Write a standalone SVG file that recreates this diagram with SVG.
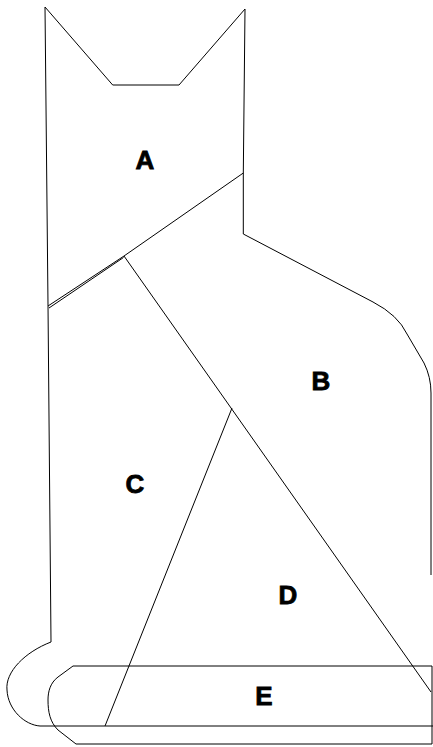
<svg xmlns="http://www.w3.org/2000/svg" width="433" height="747" viewBox="0 0 433 747">
<style>
.ln{fill:none;stroke:#000;stroke-width:1;stroke-linejoin:round}
.lb{font-family:"Liberation Sans",Arial,sans-serif;font-weight:bold;font-size:26px;fill:#000;stroke:#000;stroke-width:0.8;text-anchor:middle}
</style>
<rect width="433" height="747" fill="#fff"/>
<g id="outline">
<path class="ln" d="M45,7 L112.7,85 L179,85 L245,9 L243.3,173 L243.3,234 L373,302 Q398,315 407,334 L424,363 Q431,377 431,393 L431,575"/>
<path class="ln" d="M45,7 L48,305 L51,642 C25,652 5,672 7,690 C8,710 25,725 40,726 L433,726"/>
</g>
<g id="lines">
<path class="ln" d="M243.3,173 L124,256"/>
<path class="ln" d="M124,256 L48,306"/>
<path class="ln" d="M123.5,257.5 L49,308" stroke="#444"/>
<path class="ln" d="M124,256 L431,692"/>
<path class="ln" d="M232,408 L105,726"/>
</g>
<g id="E-shape">
<path class="ln" stroke="#333" d="M432,666 L73,666 L58,677 C50,683 48,692 48,700 C48,712 50,722 58,730 L76,744 L432,744 Z"/>
</g>
<g id="labels">
<text class="lb" x="145" y="169">A</text>
<text class="lb" x="321" y="390">B</text>
<text class="lb" x="135" y="493">C</text>
<text class="lb" x="288" y="604">D</text>
<text class="lb" x="264" y="705">E</text>
</g>
</svg>
